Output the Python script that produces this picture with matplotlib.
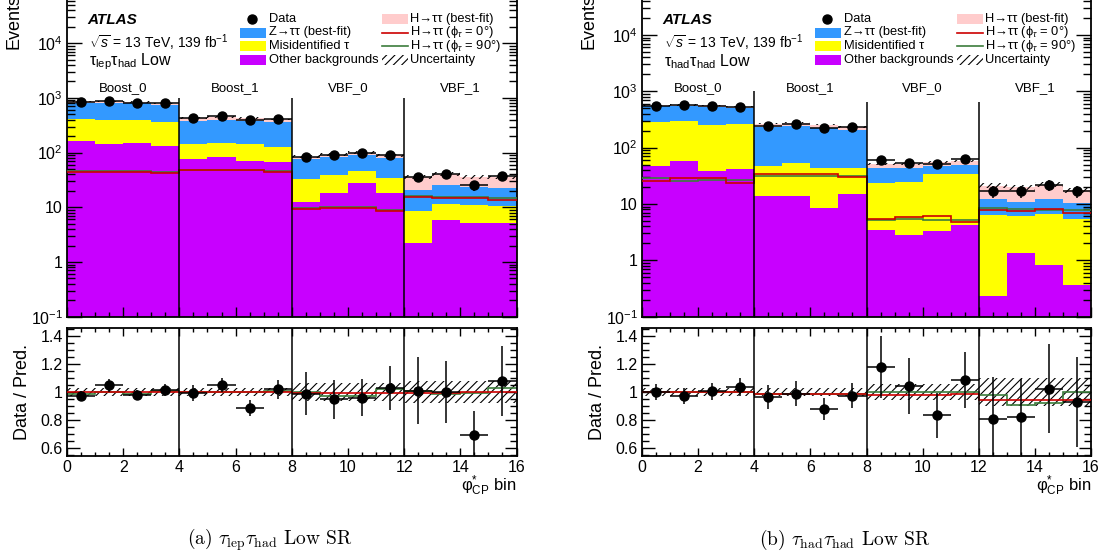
import numpy as np
import matplotlib
matplotlib.use('Agg')
import matplotlib.pyplot as plt
from matplotlib.patches import Rectangle
from matplotlib.lines import Line2D
from matplotlib.ticker import LogLocator, MultipleLocator, FixedLocator, FuncFormatter, NullFormatter

plt.rcParams['font.family'] = ['Liberation Sans', 'DejaVu Sans']
plt.rcParams['mathtext.fontset'] = 'custom'
plt.rcParams['mathtext.rm'] = 'Liberation Sans'
plt.rcParams['mathtext.it'] = 'Liberation Sans:italic'
plt.rcParams['mathtext.bf'] = 'Liberation Sans:bold'
plt.rcParams['hatch.linewidth'] = 0.8
plt.rcParams['axes.linewidth'] = 1.3

# ---------------- data ----------------
bin_edges = list(range(17))
categories = ["Boost_0", "Boost_1", "VBF_0", "VBF_1"]
category_centers = [2, 6, 10, 14]
category_bounds = [4, 8, 12]

# (a) tau_lep tau_had
other_L = [165, 144, 148, 134, 76, 84, 71, 67, 12.7, 18.5, 27.5, 18, 2.2, 5.9, 5.1, 5.2]
misid_L = [246, 251, 247, 233, 68, 68, 71, 61, 20.3, 20.5, 19.5, 17, 6.5, 5.6, 6.1, 5.5]
ztt_L = [410, 420, 400, 375, 240, 248, 240, 230, 42, 43, 43, 45, 12, 14, 12.6, 11.5]
hbest_L = [45, 45, 45, 43, 48, 49, 48, 45, 9.5, 10, 10, 8.8, 15, 15, 12.5, 13]
h0_L = [44, 44, 44, 42, 48, 48, 48, 45, 9.2, 9.8, 9.8, 8.5, 15.2, 14.8, 14.6, 13.6]
h90_L = [46, 46, 46, 44, 49, 49, 49, 47, 9.6, 10.2, 10.2, 9.0, 16, 15.5, 15.2, 14.5]
data_L = [835, 885, 815, 790, 424, 467, 389, 411, 84, 90, 97, 89, 36, 40.6, 25.2, 37.8]
data_err_L = [29, 30, 29, 28, 21, 22, 20, 20, 9.2, 9.5, 9.8, 9.4, 6, 6.4, 5, 6.1]
unc_L = [0.03, 0.03, 0.03, 0.03, 0.03, 0.03, 0.03, 0.03, 0.065, 0.065, 0.065, 0.065, 0.08, 0.08, 0.08, 0.08]
ratio_L = [0.975, 1.05, 0.98, 1.015, 0.995, 1.05, 0.89, 1.02, 0.99, 0.95, 0.962, 1.03, 1.01, 1.0, 0.695, 1.08]
ratio_err_L = [0.034, 0.047, 0.035, 0.04, 0.055, 0.05, 0.057, 0.07, 0.155, 0.14, 0.133, 0.157, 0.24, 0.22, 0.17, 0.25]
r0_L = [1.0, 1.0, 1.0, 1.0, 1.0, 1.0, 1.0, 1.0, 0.997, 0.997, 0.997, 0.997, 0.993, 0.993, 1.0, 1.0]
r90_L = [0.99, 1.0, 0.985, 1.005, 1.0, 1.0, 1.0, 1.01, 1.0, 0.97, 0.97, 1.02, 1.01, 0.99, 0.995, 1.03]

# (b) tau_had tau_had
other_R = [48, 58, 39, 42, 14, 14, 8.4, 15, 3.5, 2.8, 3.3, 4.3, 0.23, 1.35, 0.84, 0.37]
misid_R = [235, 241, 215, 222, 34, 39, 34.6, 28, 20, 21.7, 30.7, 29.7, 6.2, 4.65, 5.9, 5.1]
ztt_R = [255, 250, 280, 245, 185, 190, 180, 160, 20, 19, 13, 16, 5.6, 5.0, 5.3, 5.0]
hbest_R = [27, 27, 28, 25, 34, 34, 34, 31, 8, 8, 8.5, 8, 9, 9, 10, 7]
h0_R = [25.8, 28.8, 28.8, 24, 34, 34.5, 34.5, 30.7, 5.5, 5.8, 6.0, 4.8, 7.9, 7.6, 8.2, 6.9]
h90_R = [28.5, 26, 27, 27, 32, 32, 32, 32, 5.3, 5.4, 5.3, 5.3, 8.4, 8.0, 7.8, 7.8]
data_R = [558, 574, 551, 529, 247, 264, 222, 228, 60, 53, 51, 62.5, 16.7, 16.7, 21.9, 16.7]
data_err_R = [24, 24, 23, 23, 16, 16, 15, 15, 7.7, 7.3, 7.1, 7.9, 4.1, 4.1, 4.7, 4.1]
unc_R = [0.03, 0.03, 0.03, 0.03, 0.03, 0.03, 0.03, 0.03, 0.055, 0.055, 0.055, 0.055, 0.1, 0.1, 0.1, 0.1]
ratio_R = [1.0, 0.97, 1.005, 1.035, 0.965, 0.99, 0.88, 0.975, 1.18, 1.045, 0.836, 1.085, 0.81, 0.826, 1.026, 0.93]
ratio_err_R = [0.057, 0.057, 0.057, 0.063, 0.086, 0.09, 0.077, 0.09, 0.22, 0.2, 0.16, 0.2, 0.30, 0.27, 0.32, 0.32]
r0_R = [1.0, 1.0, 1.0, 1.0, 0.99, 0.99, 0.99, 0.99, 0.98, 0.98, 0.98, 0.99, 0.948, 0.945, 0.948, 0.948]
r90_R = [1.0, 1.0, 1.0, 1.0, 0.985, 0.985, 0.985, 0.985, 1.0, 1.0, 1.0, 1.0, 0.98, 0.91, 0.92, 1.0]

# ---------------- style ----------------
C_OTHER = '#C800FF'
C_MISID = '#FFFF00'
C_ZTT = '#3399FF'
C_HBEST = '#FFCCCC'
C_H0 = '#CC0000'
C_H90 = '#3C7D3C'

W, H = 1107, 560
fig = plt.figure(figsize=(W / 100, H / 100), dpi=100)


def fx(px):
    return px / W


def fy(py):
    return 1 - py / H


TOP_Y0, TOP_Y1 = -11.5, 316.7   # pixel rows of top-panel frame
RAT_Y0, RAT_Y1 = 328.0, 456.0   # pixel rows of ratio-panel frame


def logfmt(v, pos):
    e = int(round(np.log10(v)))
    if e == 0:
        return '1'
    if e == 1:
        return '10'
    return r'$10^{%d}$' % e


def ratfmt(v, pos):
    if abs(v - 1) < 1e-6:
        return '1'
    return '%.1f' % v


def panel(x0, x1, ytop, comps, hbest, h0, h90, data, derr, unc,
          ratio, rerr, r0, r90, chan, caption, vline_tops):
    edges = np.array(bin_edges, dtype=float)
    centers = edges[:-1] + 0.5
    wpx = x1 - x0
    axt = fig.add_axes([fx(x0), fy(TOP_Y1), wpx / W, (TOP_Y1 - TOP_Y0) / H])
    axr = fig.add_axes([fx(x0), fy(RAT_Y1), wpx / W, (RAT_Y1 - RAT_Y0) / H])

    # stacked histogram
    base = np.full(16, 1e-3)
    for vals, c in zip(comps + [hbest], [C_OTHER, C_MISID, C_ZTT, C_HBEST]):
        top = base + np.array(vals)
        axt.stairs(top, edges, baseline=base, fill=True, color=c, lw=0, zorder=1)
        base = top
    total = base
    u = np.array(unc)
    axt.stairs(total * (1 + u), edges, baseline=total * (1 - u), fill=True,
               facecolor='none', edgecolor='black', hatch='////', lw=0, zorder=2)
    axt.stairs(h90, edges, color=C_H90, lw=1.2, baseline=None, zorder=3)
    axt.stairs(h0, edges, color=C_H0, lw=1.2, baseline=None, zorder=3)
    for xb, yt in zip(category_bounds, vline_tops):
        axt.vlines(xb, 0.1, yt, color='black', lw=1.1, zorder=4)
    axt.errorbar(centers, data, yerr=derr, xerr=0.5, fmt='o', color='black',
                 ms=6.5, lw=1.1, capsize=0, zorder=5)
    axt.set_yscale('log')
    axt.set_xlim(0, 16)
    axt.set_ylim(0.1, ytop)
    axt.yaxis.set_major_locator(LogLocator(base=10, numticks=20))
    axt.yaxis.set_minor_locator(LogLocator(base=10, subs=np.arange(2, 10), numticks=50))
    axt.yaxis.set_major_formatter(FuncFormatter(logfmt))
    axt.yaxis.set_minor_formatter(NullFormatter())
    axt.xaxis.set_major_locator(MultipleLocator(2))
    axt.xaxis.set_minor_locator(MultipleLocator(0.5))
    axt.tick_params(which='both', direction='in', top=True, right=True,
                    labelbottom=False, labelsize=11.5, pad=3, width=1.0)
    axt.tick_params(axis='y', which='major', length=10.5)
    axt.tick_params(axis='y', which='minor', length=5.5)
    axt.tick_params(axis='x', which='major', length=7)
    axt.tick_params(axis='x', which='minor', length=3.5)
    axt.set_ylabel('Events', loc='top', fontsize=13)
    axt.yaxis.set_label_coords(-0.100, (TOP_Y1 + 6) / (TOP_Y1 - TOP_Y0))

    # category labels
    ycat = (TOP_Y1 - 88) / (TOP_Y1 - TOP_Y0)
    for name, xc in zip(categories, category_centers):
        axt.text(xc, ycat, name, transform=axt.get_xaxis_transform(),
                 ha='center', va='center', fontsize=9.5)

    # ATLAS labels
    def ay(py):
        return (TOP_Y1 - py) / (TOP_Y1 - TOP_Y0)

    def axx(px):
        return (px - x0) / wpx

    axt.text(axx(x0 + 20), ay(20), 'ATLAS', transform=axt.transAxes, fontsize=11,
             fontweight='bold', fontstyle='italic', ha='left', va='center')
    axt.text(axx(x0 + 22), ay(43), r'$\sqrt{s}$ = 13 TeV, 139 fb$^{-1}$',
             transform=axt.transAxes, fontsize=10, ha='left', va='center')
    axt.text(axx(x0 + 22), ay(62), chan, transform=axt.transAxes, fontsize=11.5,
             ha='left', va='center')

    # legend (drawn manually)
    rows = [19, 32.5, 46, 59.5]
    c1h, c1t = x0 + 173, x0 + 202
    c2h, c2t = x0 + 315, x0 + 343
    hw, hh = 26, 10
    fs = 9.3
    axt.add_line(Line2D([axx(c1h + 12)], [ay(rows[0])], marker='o', ms=6.5, color='black',
                        ls='none', transform=axt.transAxes, clip_on=False))
    for (col_h, col_t, r, kind, c, lab) in [
        (c1h, c1t, 0, 'none', None, 'Data'),
        (c1h, c1t, 1, 'box', C_ZTT, 'Z→ττ (best-fit)'),
        (c1h, c1t, 2, 'box', C_MISID, 'Misidentified τ'),
        (c1h, c1t, 3, 'box', C_OTHER, 'Other backgrounds'),
        (c2h, c2t, 0, 'box', C_HBEST, 'H→ττ (best-fit)'),
        (c2h, c2t, 1, 'line', C_H0, r'H→ττ (ϕ$_\tau$ = 0°)'),
        (c2h, c2t, 2, 'line', C_H90, r'H→ττ (ϕ$_\tau$ = 90°)'),
        (c2h, c2t, 3, 'hatch', None, 'Uncertainty'),
    ]:
        yr = rows[r]
        if kind == 'box':
            axt.add_patch(Rectangle((axx(col_h), ay(yr + hh / 2)), hw / wpx,
                                    hh / (TOP_Y1 - TOP_Y0), facecolor=c, lw=0,
                                    transform=axt.transAxes, clip_on=False))
        elif kind == 'hatch':
            axt.add_patch(Rectangle((axx(col_h), ay(yr + hh / 2)), hw / wpx,
                                    hh / (TOP_Y1 - TOP_Y0), facecolor='none',
                                    edgecolor='black', hatch='////', lw=0,
                                    transform=axt.transAxes, clip_on=False))
        elif kind == 'line':
            axt.add_line(Line2D([axx(col_h), axx(col_h + hw)], [ay(yr), ay(yr)],
                                color=c, lw=1.2, transform=axt.transAxes, clip_on=False))
        axt.text(axx(col_t), ay(yr), lab, transform=axt.transAxes, fontsize=fs,
                 ha='left', va='center')

    # ratio panel
    axr.stairs(1 + u, edges, baseline=1 - u, fill=True, facecolor='none',
               edgecolor='black', hatch='////', lw=0, zorder=1)
    axr.stairs(r90, edges, color=C_H90, lw=1.2, baseline=None, zorder=2)
    axr.stairs(r0, edges, color=C_H0, lw=1.2, baseline=None, zorder=3)
    for xb in category_bounds:
        axr.axvline(xb, color='black', lw=1.1, zorder=4)
    axr.errorbar(centers, ratio, yerr=rerr, xerr=0.5, fmt='o', color='black',
                 ms=6.5, lw=1.1, capsize=0, zorder=5)
    axr.set_xlim(0, 16)
    axr.set_ylim(1 - (RAT_Y1 - 392.2) / 140.4, 1 + (392.2 - RAT_Y0) / 140.4)
    axr.yaxis.set_major_locator(FixedLocator([0.6, 0.8, 1.0, 1.2, 1.4]))
    axr.yaxis.set_minor_locator(MultipleLocator(0.05))
    axr.yaxis.set_major_formatter(FuncFormatter(ratfmt))
    axr.xaxis.set_major_locator(MultipleLocator(2))
    axr.xaxis.set_minor_locator(MultipleLocator(0.5))
    axr.tick_params(which='both', direction='in', top=True, right=True,
                    labelsize=11.5, pad=3, width=1.0)
    axr.tick_params(axis='y', which='major', length=9)
    axr.tick_params(axis='y', which='minor', length=5)
    axr.tick_params(axis='x', which='major', length=6)
    axr.tick_params(axis='x', which='minor', length=3)
    axr.set_ylabel('Data / Pred.', fontsize=13)
    axr.yaxis.set_label_coords(-0.080, 0.5)
    axr.text(1.0, (RAT_Y1 - 491) / (RAT_Y1 - RAT_Y0), r'φ$^{*}_{\mathrm{CP}}$ bin',
             transform=axr.transAxes, ha='right', va='baseline', fontsize=12)

    # caption
    fig.text(fx((x0 + x1) / 2 - 22), fy(540), caption, ha='center', va='center',
             fontsize=14, fontfamily='cmr10', math_fontfamily='cm')


panel(67, 516.5, 1e5, [other_L, misid_L, ztt_L], hbest_L, h0_L, h90_L, data_L,
      data_err_L, unc_L, ratio_L, ratio_err_L, r0_L, r90_L,
      r'τ$_{\mathrm{lep}}$τ$_{\mathrm{had}}$ Low',
      r'(a) $\tau_{\mathrm{lep}}\tau_{\mathrm{had}}$ Low SR', [1000, 1000, 1000])

panel(642, 1091, 10 ** 4.824, [other_R, misid_R, ztt_R], hbest_R, h0_R, h90_R, data_R,
      data_err_R, unc_R, ratio_R, ratio_err_R, r0_R, r90_R,
      r'τ$_{\mathrm{had}}$τ$_{\mathrm{had}}$ Low',
      r'(b) $\tau_{\mathrm{had}}\tau_{\mathrm{had}}$ Low SR', [1000, 650, 650])

fig.savefig('out.png', dpi=100)
